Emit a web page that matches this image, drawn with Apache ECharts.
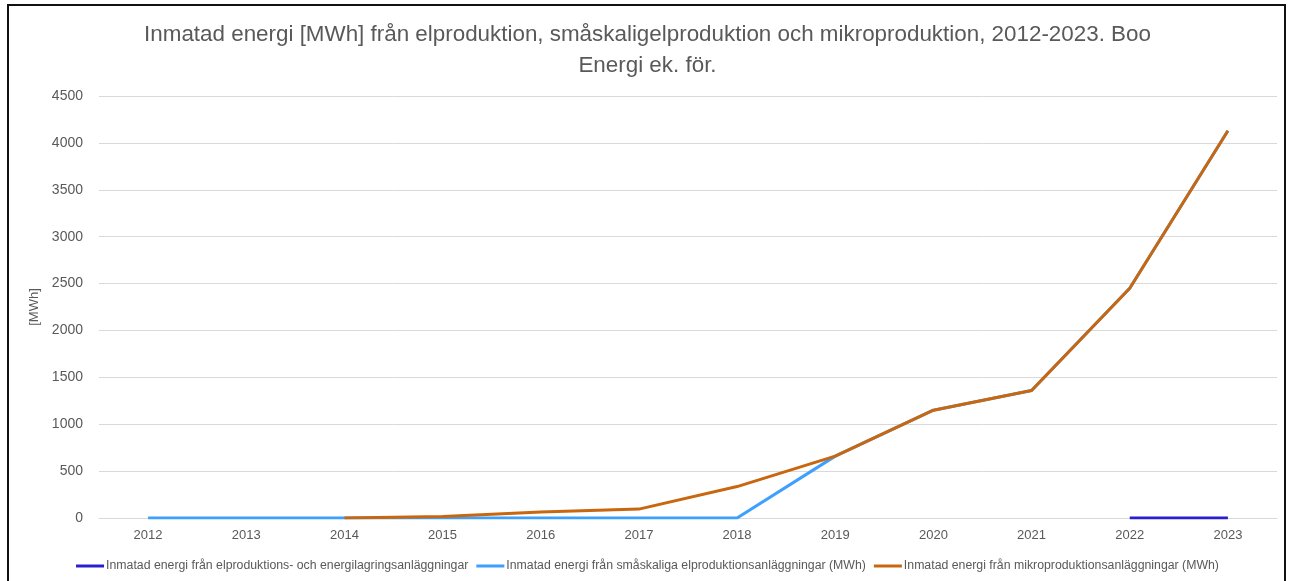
<!DOCTYPE html>
<html><head><meta charset="utf-8">
<script src="https://cdn.jsdelivr.net/npm/echarts@6/dist/echarts.min.js"></script>
<style>
html,body{margin:0;padding:0;background:#fff;}
#frame{position:absolute;left:7px;top:4px;width:1279px;height:600px;border:2px solid #111;box-sizing:border-box;}
#c{position:absolute;left:0;top:0;width:1295px;height:581px;}
</style></head>
<body>
<div id="frame"></div>
<div id="c"></div>
<script>
const years = ['2012','2013','2014','2015','2016','2017','2018','2019','2020','2021','2022','2023'];
const elprodLagring = [null,null,null,null,null,null,null,null,null,null,0,0];
const smaskaliga = [0,0,0,0,0,0,0,660,1150,1360,2450,4130];
const mikro = [null,null,0,15,65,95,335,660,1150,1360,2450,4130];
const seriesNames = [
  'Inmatad energi från elproduktions- och energilagringsanläggningar',
  'Inmatad energi från småskaliga elproduktionsanläggningar (MWh)',
  'Inmatad energi från mikroproduktionsanläggningar (MWh)'
];
const titleText = 'Inmatad energi [MWh] från elproduktion, småskaligelproduktion och mikroproduktion, 2012-2023. Boo\nEnergi ek. för.';

const chart = echarts.init(document.getElementById('c'));
const sans = '"Liberation Sans", Arial, sans-serif';
chart.setOption({
  animation:false,
  backgroundColor:'transparent',
  title:{text:titleText,left:'center',top:14,textStyle:{fontFamily:sans,fontWeight:'normal',fontSize:22.4,color:'#595959',lineHeight:31}},
  grid:{left:99,right:18,top:96,bottom:63,containLabel:false},
  legend:{bottom:4,left:'center',itemWidth:28,itemHeight:3,itemGap:8,icon:'rect',
    textStyle:{fontFamily:sans,fontSize:12.3,color:'#595959',padding:[0,0,0,-3]}},
  xAxis:{type:'category',data:years,boundaryGap:true,
    axisLine:{lineStyle:{color:'#D9D9D9',width:1}},axisTick:{show:false},
    axisLabel:{color:'#595959',fontFamily:sans,fontSize:13,margin:11}},
  yAxis:{type:'value',min:0,max:4500,interval:500,name:'[MWh]',nameLocation:'middle',nameGap:58,nameRotate:90,
    nameTextStyle:{color:'#595959',fontFamily:sans,fontSize:13},
    axisLine:{show:false},axisTick:{show:false},
    splitLine:{lineStyle:{color:'#D9D9D9',width:1}},
    axisLabel:{color:'#595959',fontFamily:sans,fontSize:14,margin:16,formatter:function(v){return String(v);}}},
  series:[
    {name:seriesNames[0],type:'line',data:elprodLagring,showSymbol:false,symbol:'none',lineStyle:{color:'#2A1FD0',width:3},itemStyle:{color:'#2A1FD0'},z:3},
    {name:seriesNames[1],type:'line',data:smaskaliga,showSymbol:false,symbol:'none',lineStyle:{color:'#3DA0FF',width:3},itemStyle:{color:'#3DA0FF'},z:2},
    {name:seriesNames[2],type:'line',data:mikro,showSymbol:false,symbol:'none',lineStyle:{color:'#C8670F',width:3},itemStyle:{color:'#C8670F'},z:4}
  ]
});
</script>
</body></html>
